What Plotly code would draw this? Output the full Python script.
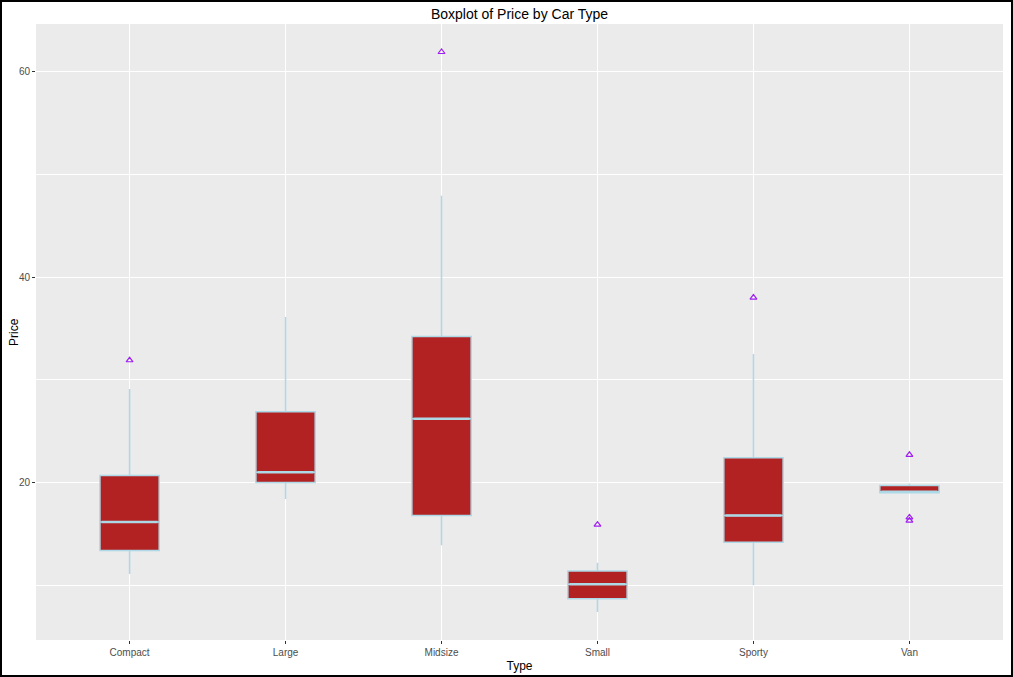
import plotly.graph_objects as go

types = ["Compact", "Large", "Midsize", "Small", "Sporty", "Van"]
q1 = [13.375, 20.0, 16.8, 8.7, 14.2, 19.0]
median = [16.15, 21.0, 26.2, 10.1, 16.8, 19.1]
q3 = [20.675, 26.9, 34.2, 11.4, 22.4, 19.7]
lowerfence = [11.1, 18.4, 13.9, 7.4, 10.0, 19.0]
upperfence = [29.1, 36.1, 47.9, 12.2, 32.5, 19.9]

outlier_types = ["Compact", "Midsize", "Small", "Sporty", "Van", "Van", "Van"]
outlier_prices = [31.9, 61.9, 15.9, 38.0, 22.7, 16.3, 16.6]

W, H = 1013, 677
ml, mr, mt, mb = 36, 10, 24, 37
pw, ph = W - ml - mr, H - mt - mb

fig = go.Figure()
fig.add_trace(go.Box(
    x=types, q1=q1, median=median, q3=q3,
    lowerfence=lowerfence, upperfence=upperfence,
    boxpoints=False, fillcolor="#B22222",
    line=dict(color="#ADD8E6", width=1.5),
    width=0.38, whiskerwidth=0, showlegend=False, hoverinfo="skip",
))
# thicker median line (ggplot draws the median at double width)
fig.add_trace(go.Box(
    x=types, q1=median, median=median, q3=median,
    lowerfence=median, upperfence=median,
    boxpoints=False, fillcolor="rgba(0,0,0,0)",
    line=dict(color="#ADD8E6", width=2.5),
    width=0.36, whiskerwidth=0, showlegend=False, hoverinfo="skip",
))
fig.add_trace(go.Scatter(
    x=outlier_types, y=outlier_prices, mode="markers",
    marker=dict(symbol="triangle-up-open", color="#A020F0", size=6,
                line=dict(width=1.2, color="#A020F0")),
    showlegend=False, hoverinfo="skip",
))

fig.add_shape(type="rect", xref="paper", yref="paper",
              x0=-(ml - 1) / pw, x1=1 + (mr - 1) / pw,
              y0=-(mb - 1) / ph, y1=1 + (mt - 1) / ph,
              line=dict(color="black", width=2), layer="above")

fig.add_annotation(text="Price", xref="paper", yref="paper",
                   x=(14 - ml) / pw, y=0.5, xanchor="center", yanchor="middle",
                   textangle=-90, showarrow=False, font=dict(size=12, color="black"))

fig.update_layout(
    width=W, height=H, boxmode="overlay",
    margin=dict(l=ml, r=mr, t=mt, b=mb, autoexpand=False),
    paper_bgcolor="white", plot_bgcolor="#EBEBEB",
    font=dict(family="Liberation Sans, Arial, sans-serif"),
    title=dict(text="Boxplot of Price by Car Type", x=(ml + pw / 2) / W, xanchor="center",
               y=1 - 14 / H, yanchor="middle", font=dict(size=14, color="black")),
    xaxis=dict(
        title=dict(text="Type", font=dict(size=12, color="black"), standoff=4),
        automargin=False,
        categoryorder="array", categoryarray=types,
        range=[-0.6, 5.6], showgrid=True, gridcolor="white", gridwidth=1.2,
        ticks="outside", ticklen=3, tickcolor="#333333",
        tickfont=dict(size=10, color="#4D4D4D"), zeroline=False, showline=False,
    ),
    yaxis=dict(
        automargin=False,
        range=[4.675, 64.625], tick0=0, dtick=20,
        showgrid=True, gridcolor="white", gridwidth=1.2,
        minor=dict(tick0=0, dtick=10, showgrid=True, gridcolor="white", gridwidth=0.6, ticks=""),
        ticks="outside", ticklen=3, tickcolor="#333333",
        tickfont=dict(size=10, color="#4D4D4D"), zeroline=False, showline=False,
    ),
)

fig.write_html("out.html")
